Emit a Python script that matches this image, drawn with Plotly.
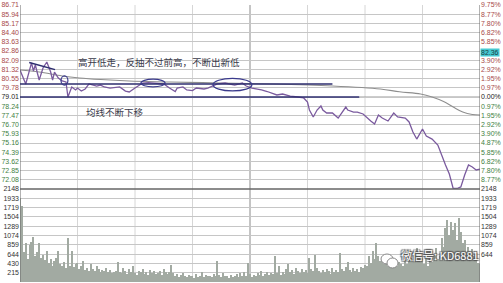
import plotly.graph_objects as go

# ---------------- data ----------------
prev_close = 79.01

price_t = [0, 3, 6, 7, 8, 10, 12, 14, 16, 17, 18, 20, 22, 24, 25, 27, 29, 30, 32, 34,
           36, 38, 40, 42, 44, 47, 50, 52, 55, 57, 60, 64, 67, 72, 75, 78, 81, 82, 85, 87,
           90, 92, 96, 98, 101, 103, 107, 112, 116, 118, 121, 124, 126, 129, 132, 134, 137, 141, 145, 148,
           150, 151, 153, 155, 157, 158, 160, 163, 166, 168, 170, 171, 174, 176, 179, 183, 185, 187, 189, 192,
           195, 197, 201, 203, 205, 207, 210, 212, 215, 218, 220, 222, 224, 226, 228, 230, 232, 234, 236, 238, 240]
price_v = [81.27, 80.10, 81.86, 81.19, 81.69, 80.43, 81.44, 81.94, 81.10, 80.43, 81.10, 80.60, 80.35, 80.27, 79.01, 79.85, 79.60, 79.76, 79.51, 79.68,
           80.10, 80.01, 79.93, 80.01, 79.85, 79.76, 79.85, 79.85, 79.51, 79.43, 79.76, 80.18, 80.22, 80.18, 80.10, 79.76, 79.47, 79.76, 79.85, 79.60,
           79.55, 79.76, 79.68, 79.76, 79.93, 80.10, 80.18, 80.01, 80.18, 79.93, 79.76, 79.68, 79.60, 79.47, 79.26, 79.18, 79.26, 79.09, 79.01, 78.93,
           78.59, 77.92, 77.34, 77.92, 78.26, 77.92, 77.67, 77.67, 77.25, 77.67, 78.17, 77.92, 77.75, 77.75, 77.59, 77.00, 76.75, 77.50, 77.25, 77.00,
           77.67, 77.34, 77.25, 76.92, 76.08, 75.49, 76.33, 75.74, 75.49, 74.99, 74.07, 73.32, 72.56, 71.35, 71.35, 71.48, 72.48, 73.32, 73.15, 72.90, 72.98]

avg_t = [0, 10, 22, 31, 42, 57, 78, 104, 130, 163, 188, 198, 209, 215, 221, 226, 231, 236, 240]
avg_v = [81.27, 81.10, 80.77, 80.60, 80.47, 80.35, 80.27, 80.18, 80.10, 79.93, 79.68, 79.45, 79.26, 79.01, 78.63, 78.17, 77.75, 77.54, 77.50]

volume = [1950, 1750, 700, 900, 520, 860, 935, 1050, 600, 700,
          900, 560, 620, 500, 720, 450, 520, 380, 480, 560,
          705, 420, 380, 460, 330, 1013, 380, 720, 350, 420,
          437, 300, 360, 475, 280, 330, 260, 420, 300, 250,
          360, 300, 230, 280, 250, 330, 220, 280, 200, 240,
          260, 460, 230, 200, 320, 250, 180, 300, 220, 360,
          200, 170, 260, 240, 310, 180, 220, 160, 280, 200,
          250, 180, 210, 260, 170, 300, 220, 180, 240, 398,
          200, 150, 180, 120, 160, 200, 140, 110, 170, 130,
          150, 100, 180, 120, 140, 220, 110, 160, 130, 150,
          120, 180, 140, 490, 160, 110, 200, 130, 150, 100,
          170, 120, 140, 180, 110, 200, 150, 240, 130, 437,
          180, 120, 160, 140, 200, 170, 250, 150, 190, 230,
          160, 210, 180, 605, 200, 360, 170, 240, 190, 300,
          414, 220, 280, 180, 330, 250, 200, 300, 240, 280,
          210, 552, 300, 260, 613, 320, 250, 200, 280, 230,
          300, 260, 180, 330, 240, 280, 220, 667, 300, 250,
          350, 460, 280, 240, 330, 260, 300, 220, 350, 320,
          400, 380, 590, 450, 705, 520, 898, 600, 480, 520,
          420, 560, 380, 500, 450, 400, 520, 360, 460, 420,
          380, 500, 420, 744, 560, 480, 620, 790, 520, 460,
          560, 420, 600, 380, 520, 460, 620, 790, 540, 600,
          1013, 820, 1243, 1434, 1089, 1395, 1204, 1358, 980, 1473,
          1150, 900, 974, 700, 820, 650, 760, 600, 550, 440,
          420]
volume_t = list(range(len(volume)))

price_ticks = [86.71, 85.94, 85.17, 84.40, 83.63, 82.86, 82.09, 81.32, 80.55, 79.78,
               79.01, 78.24, 77.47, 76.70, 75.93, 75.16, 74.39, 73.62, 72.85, 72.08]
# right-hand labels; the upper 4.87% sits under the last-price tag in the reference
pct_labels = ["9.75%", "8.77%", "7.80%", "6.82%", "5.85%", "", "3.90%", "2.92%", "1.95%", "0.97%",
              "0.00%", "0.97%", "1.95%", "2.92%", "3.90%", "4.87%", "5.85%", "6.82%", "7.80%", "8.77%"]
vol_ticks = [2148, 1933, 1719, 1504, 1289, 1074, 859, 644, 430, 215]
# right-hand volume labels; the lowest ones are hidden by the watermark in the reference
vol_labels_right = ["2148", "1933", "1719", "1504", "1289", "1074", "859", "644", "", ""]
time_grid = [30, 60, 90, 120, 150, 180, 210]

note_top = "高开低走，反抽不过前高，不断出新低"
note_avg = "均线不断下移"
watermark = "微信号: KD6881"
last_tag = "82.36"

# ---------------- styling ----------------
UP = "#a84a4a"
DN = "#3f7f3f"
NAVY = "#2c2c6e"
split = 93 / 277.0  # price / volume boundary in paper units

def col(v, ref):
    if v > ref:
        return UP
    if v < ref:
        return DN
    return "#222"

left_text = ["<span style='color:%s'>%.2f</span>" % (col(v, prev_close), v) for v in price_ticks]
right_text = ["<span style='color:%s'>%s</span>" % (col(v, prev_close), s) for v, s in zip(price_ticks, pct_labels)]
vol_text = [str(v) for v in vol_ticks]

fig = go.Figure()
fig.add_trace(go.Bar(x=volume_t, y=volume, width=0.6, marker=dict(color="#a2aaa2", line=dict(width=0)),
                     xaxis="x", yaxis="y3", hoverinfo="skip"))
fig.add_trace(go.Scatter(x=avg_t, y=avg_v, mode="lines", line=dict(color="#8e8e8e", width=1.1, shape="spline"),
                         xaxis="x", yaxis="y", hoverinfo="skip"))
fig.add_trace(go.Scatter(x=price_t, y=price_v, mode="lines", line=dict(color="#7a5a9e", width=1.3),
                         xaxis="x", yaxis="y", hoverinfo="skip"))
# invisible companions so the right-hand axes get drawn
fig.add_trace(go.Scatter(x=[price_t[0]], y=[price_v[0]], mode="markers", marker=dict(opacity=0),
                         xaxis="x", yaxis="y2", hoverinfo="skip"))
fig.add_trace(go.Scatter(x=[volume_t[0]], y=[volume[0]], mode="markers", marker=dict(opacity=0),
                         xaxis="x", yaxis="y4", hoverinfo="skip"))

tickfont = dict(family="Liberation Sans", size=7, color="#333")
common = dict(ticks="", zeroline=False, showline=False, tickfont=tickfont, fixedrange=True)

fig.update_layout(
    width=503, height=283,
    margin=dict(l=20, r=23, t=5, b=1),
    paper_bgcolor="white", plot_bgcolor="white",
    showlegend=False, bargap=0,
    xaxis=dict(domain=[0, 1], range=[0, 240], showgrid=False, showticklabels=False,
               zeroline=False, anchor="y3", fixedrange=True),
    yaxis=dict(domain=[split, 1], range=[71.31, 86.71], tickvals=price_ticks, ticktext=left_text,
               showgrid=True, gridcolor="#c6c6c6", gridwidth=1, anchor="x", **common),
    yaxis2=dict(overlaying="y", side="right", range=[71.31, 86.71], tickvals=price_ticks,
                ticktext=right_text, showgrid=False, anchor="x", **common),
    yaxis3=dict(domain=[0, split], range=[0, 2148], tickvals=vol_ticks, ticktext=vol_text,
                showgrid=True, gridcolor="#c6c6c6", gridwidth=1, anchor="x", **common),
    yaxis4=dict(overlaying="y3", side="right", range=[0, 2148], tickvals=vol_ticks,
                ticktext=vol_labels_right, showgrid=False, anchor="x", **common),
)

shapes = []
for t in time_grid:
    shapes.append(dict(type="line", xref="x", yref="paper", x0=t, x1=t, y0=0, y1=1, layer="below",
                       line=dict(color="#8a8a8a" if t == 120 else "#d6d6d6", width=1)))
# frame
for t in (0, 240):
    shapes.append(dict(type="line", xref="x", yref="paper", x0=t, x1=t, y0=0, y1=1,
                       line=dict(color="#666", width=1)))
# separator price/volume
shapes.append(dict(type="line", xref="paper", yref="paper", x0=0, x1=1, y0=split, y1=split,
                   line=dict(color="#666", width=1.5)))
# prev close line remainder
shapes.append(dict(type="line", xref="x", yref="y", x0=177, x1=240, y0=prev_close, y1=prev_close,
                   layer="below", line=dict(color="#999", width=1)))
# hand-drawn annotation marks
shapes.append(dict(type="line", xref="x", yref="y", x0=0, x1=163, y0=80.10, y1=80.10,
                   line=dict(color=NAVY, width=1.6)))
shapes.append(dict(type="line", xref="x", yref="y", x0=0, x1=177, y0=prev_close, y1=prev_close,
                   line=dict(color=NAVY, width=1.6)))
shapes.append(dict(type="line", xref="x", yref="y", x0=4.8, x1=18.3, y0=81.90, y1=81.30,
                   line=dict(color=NAVY, width=1.4)))
for (a, b, c, d) in [(21.4, 25.0, 80.01, 80.77), (63.1, 75.7, 79.86, 80.50), (100.7, 121.0, 79.52, 80.57)]:
    shapes.append(dict(type="circle", xref="x", yref="y", x0=a, x1=b, y0=c, y1=d,
                       line=dict(color="#3a3a8c", width=1.2)))
# wechat icon (two bubbles)
def px(xp):
    return (xp - 20) / 460.0
def py(yp):
    return (282 - yp) / 277.0
shapes.append(dict(type="circle", xref="paper", yref="paper", x0=px(381), x1=px(393), y0=py(264), y1=py(254),
                   fillcolor="white", line=dict(color="#888", width=1)))
shapes.append(dict(type="circle", xref="paper", yref="paper", x0=px(387), x1=px(398), y0=py(268), y1=py(258),
                   fillcolor="white", line=dict(color="#888", width=1)))
fig.update_layout(shapes=shapes)

cjk = "Noto Sans CJK SC"
fig.add_annotation(x=72.3, y=81.94, xref="x", yref="y", text=note_top, showarrow=False,
                   font=dict(family=cjk, size=9.5, color="#3a3a4a"))
fig.add_annotation(x=49.6, y=77.75, xref="x", yref="y", text=note_avg, showarrow=False,
                   font=dict(family=cjk, size=9.5, color="#3a3a4a"))
fig.add_annotation(x=1.0, xref="paper", y=82.70, yref="y", text=last_tag, showarrow=False,
                   xanchor="left", bgcolor="#46c9d2", borderpad=0,
                   font=dict(family="Liberation Sans", size=7, color="#1d3d40"))
fig.add_annotation(x=px(400), xref="paper", y=py(264), yref="paper", text=watermark, showarrow=False,
                   xanchor="left", borderpad=0,
                   font=dict(family=cjk, size=11, color="white",
                             shadow="1px 1px 1px #555, -1px -1px 1px #555, 1px -1px 1px #555, -1px 1px 1px #555"))

fig.write_html("out.html")
